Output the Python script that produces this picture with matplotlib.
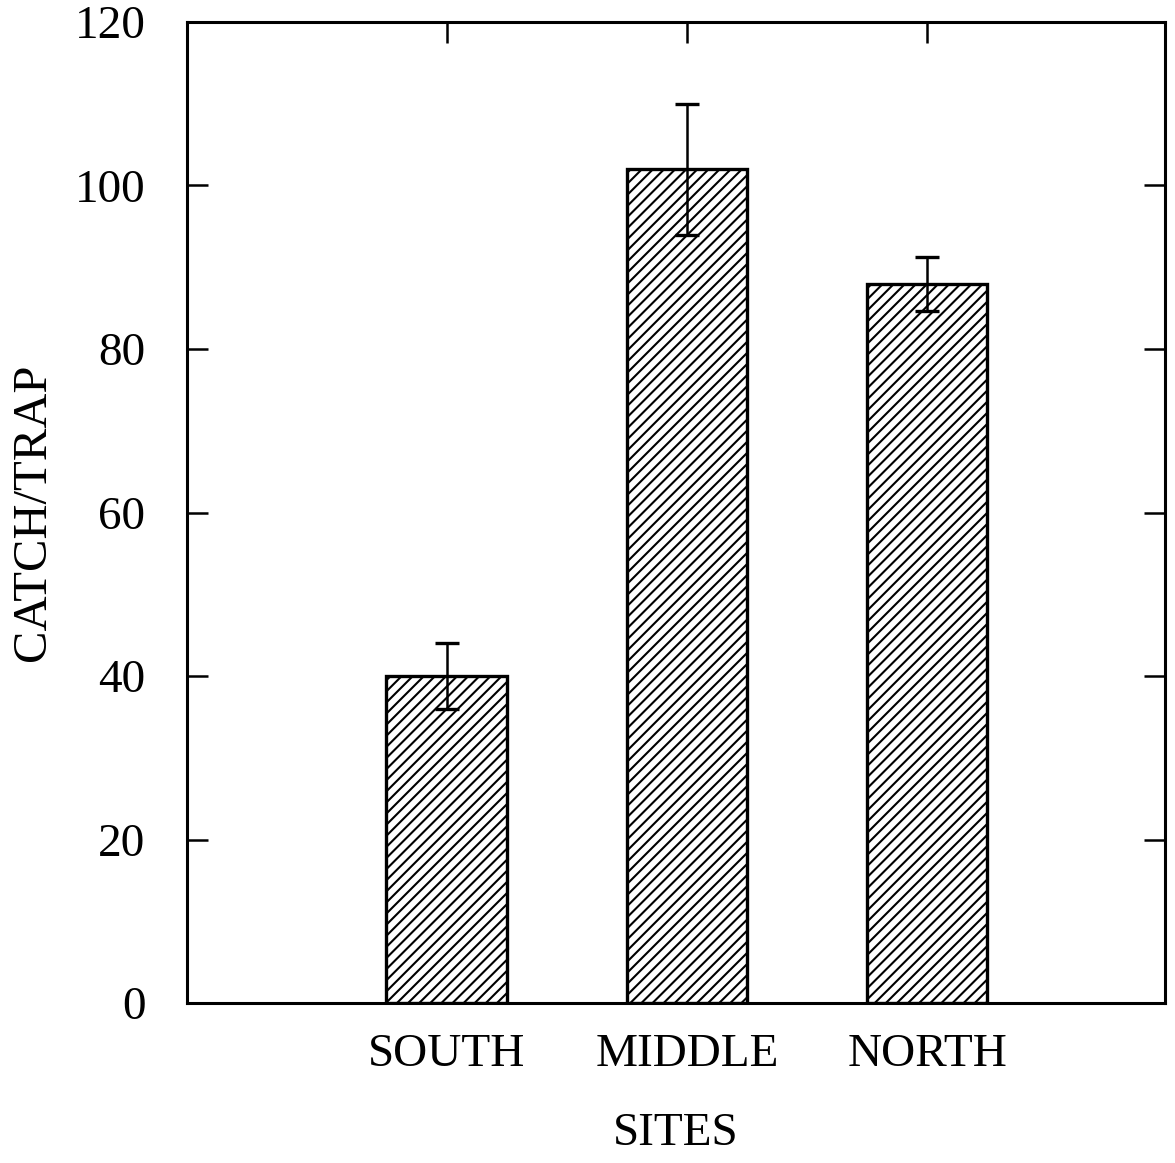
import matplotlib
matplotlib.use("Agg")
import matplotlib.pyplot as plt
import numpy as np

sites = ["SOUTH", "MIDDLE", "NORTH"]
catch = [40, 102, 88]
err = [4, 8, 3.3]
yticks = [0, 20, 40, 60, 80, 100, 120]

plt.rcParams['font.family'] = ['Liberation Serif', 'DejaVu Serif']
plt.rcParams['hatch.linewidth'] = 1.5

fig = plt.figure(figsize=(11.75, 11.63), dpi=100)
ax = fig.add_axes([187/1175, 1 - 1003/1163, (1165-187)/1175, (1003-22)/1163])

x = np.arange(len(sites))
ax.bar(x, catch, width=0.5, color='white', edgecolor='black', linewidth=2.4, hatch='///', zorder=2)
ax.errorbar(x, catch, yerr=err, fmt='none', ecolor='black', elinewidth=1.8, capsize=8.5, capthick=2.4, zorder=3)

ax.set_xlim(-1.08, 2.99)
ax.set_ylim(0, 120)
ax.set_yticks(yticks)
ax.set_xticks(x)
ax.set_xticklabels(sites)
ax.tick_params(axis='both', direction='in', length=15, width=1.8, labelsize=34,
               top=True, right=True)
ax.tick_params(axis='y', pad=30)
ax.tick_params(axis='x', pad=22)
for s in ax.spines.values():
    s.set_linewidth(2.2)

ax.set_ylabel("CATCH/TRAP", fontsize=35, labelpad=14)
ax.set_xlabel("SITES", fontsize=34, labelpad=26)

fig.savefig("out.png", dpi=100)
